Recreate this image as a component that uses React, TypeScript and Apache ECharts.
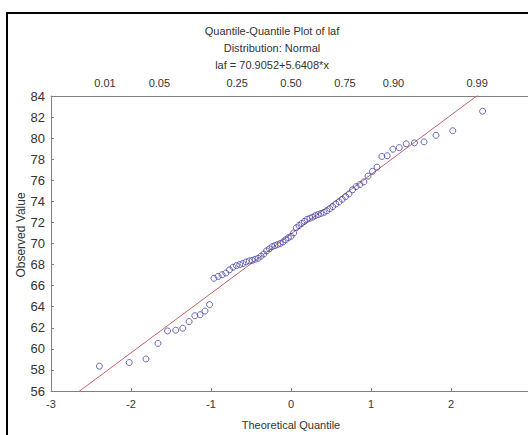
import React, { useEffect, useRef } from "react";
import * as echarts from "echarts";

const theoretical = [
  -2.395, -2.022, -1.813, -1.663, -1.543, -1.441, -1.353, -1.274, -1.202, -1.136,
  -1.075, -1.018, -0.963, -0.911, -0.862, -0.814, -0.769, -0.725, -0.682, -0.641,
  -0.601, -0.561, -0.522, -0.485, -0.448, -0.411, -0.375, -0.34, -0.305, -0.27,
  -0.236, -0.202, -0.168, -0.134, -0.1, -0.067, -0.033, 0, 0.033, 0.067,
  0.1, 0.134, 0.168, 0.202, 0.236, 0.27, 0.305, 0.34, 0.375, 0.411,
  0.448, 0.485, 0.522, 0.561, 0.601, 0.641, 0.682, 0.725, 0.769, 0.814,
  0.862, 0.911, 0.963, 1.018, 1.075, 1.136, 1.202, 1.274, 1.353, 1.441,
  1.543, 1.663, 1.813, 2.022, 2.395,
];
const observed = [
  58.36, 58.7, 59.04, 60.52, 61.7, 61.77, 61.96, 62.59, 63.15, 63.24,
  63.59, 64.2, 66.7, 66.88, 67.04, 67.2, 67.5, 67.75, 67.9, 68.0,
  68.1, 68.25, 68.35, 68.4, 68.5, 68.6, 68.8, 69.0, 69.3, 69.5,
  69.7, 69.8, 69.9, 70.0, 70.15, 70.35, 70.55, 70.68, 71.0, 71.5,
  71.7, 71.9, 72.1, 72.3, 72.4, 72.5, 72.65, 72.75, 72.85, 72.95,
  73.1, 73.3, 73.5, 73.75, 73.95, 74.2, 74.45, 74.7, 75.1, 75.4,
  75.6, 75.85, 76.4, 76.85, 77.25, 78.26, 78.33, 78.95, 79.1, 79.46,
  79.55, 79.65, 80.27, 80.7, 82.56,
];

// Fitted line laf = 70.9052 + 5.6408*x
const intercept = 70.9052;
const slope = 5.6408;
const lineX = [-3, 3];

// Top probability axis
const probLabels = ["0.01", "0.05", "0.25", "0.50", "0.75", "0.90", "0.99"];
const probZ = [-2.326, -1.645, -0.674, 0, 0.674, 1.2816, 2.326];

const titleLines = [
  "Quantile-Quantile Plot of laf",
  "Distribution: Normal",
  "laf = 70.9052+5.6408*x",
];

const FONT = "Liberation Sans, Arial, sans-serif";
const TXT = "#333333";

export default function App() {
  const ref = useRef<HTMLDivElement>(null);
  useEffect(() => {
    if (!ref.current) return;
    const chart = echarts.init(ref.current, null, { renderer: "svg" });
    const points = theoretical.map((x, i) => [x, observed[i]]);
    const linePts = lineX.map((x) => [x, intercept + slope * x]);
    chart.setOption({
      animation: false,
      backgroundColor: "#ffffff",
      textStyle: { fontFamily: FONT },
      grid: { left: 51, top: 96, right: 1, bottom: 41, containLabel: false },
      xAxis: [
        {
          type: "value",
          position: "bottom",
          min: -3,
          max: 3,
          interval: 1,
          splitLine: { show: false },
          axisLine: { onZero: false, lineStyle: { color: "#808080", width: 1 } },
          axisTick: { inside: true, length: 3, lineStyle: { color: "#808080" } },
          axisLabel: {
            color: TXT,
            fontSize: 11,
            margin: 7,
            fontFamily: FONT,
            showMaxLabel: false,
          },
          name: "Theoretical Quantile",
          nameLocation: "middle",
          nameGap: 28,
          nameTextStyle: { color: TXT, fontSize: 11, fontFamily: FONT },
        },
        {
          type: "value",
          position: "top",
          min: -3,
          max: 3,
          splitLine: { show: false },
          axisLine: { show: true, onZero: false, lineStyle: { color: "#808080", width: 1 } },
          axisTick: { show: false },
          axisLabel: {
            color: TXT,
            fontSize: 11,
            margin: 8,
            fontFamily: FONT,
            customValues: probZ,
            formatter: (v: number) => {
              let best = 0;
              probZ.forEach((z, i) => {
                if (Math.abs(z - v) < Math.abs(probZ[best] - v)) best = i;
              });
              return probLabels[best];
            },
          },
        },
      ],
      yAxis: {
        type: "value",
        min: 56,
        max: 84,
        interval: 2,
        splitLine: { show: false },
        axisLine: { show: true, onZero: false, lineStyle: { color: "#808080", width: 1 } },
        axisTick: { show: true, inside: true, length: 3, lineStyle: { color: "#808080" } },
        axisLabel: { color: TXT, fontSize: 13, margin: 6, fontFamily: FONT },
      },
      graphic: [
        {
          type: "rect",
          shape: { x: 7, y: 13, width: 700, height: 600 },
          style: { fill: "none", stroke: "#000000", lineWidth: 2 },
          silent: true,
        },
        ...titleLines.map((t, i) => ({
          type: "text",
          x: 272,
          y: 31 + i * 17,
          style: {
            text: t,
            fill: TXT,
            font: `11px ${FONT}`,
            align: "center",
            verticalAlign: "middle",
          },
        })),
        {
          type: "text",
          x: 21,
          y: 235,
          rotation: Math.PI / 2,
          style: {
            text: "Observed Value",
            fill: TXT,
            font: `12px ${FONT}`,
            align: "center",
            verticalAlign: "middle",
          },
        },
      ],
      series: [
        {
          type: "line",
          data: linePts,
          symbol: "none",
          clip: true,
          lineStyle: { color: "#c46464", width: 1 },
          z: 1,
        },
        {
          type: "scatter",
          data: points,
          symbol: "circle",
          symbolSize: 6,
          itemStyle: { color: "rgba(255,255,255,0)", borderColor: "#4545a5", borderWidth: 1 },
          z: 2,
        },
      ],
    });
    return () => chart.dispose();
  }, []);
  return (
    <div
      style={{
        position: "fixed",
        left: 0,
        top: 0,
        width: 528,
        height: 435,
        overflow: "hidden",
        background: "#ffffff",
      }}
    >
      <div ref={ref} style={{ width: 532, height: 435 }} />
    </div>
  );
}
